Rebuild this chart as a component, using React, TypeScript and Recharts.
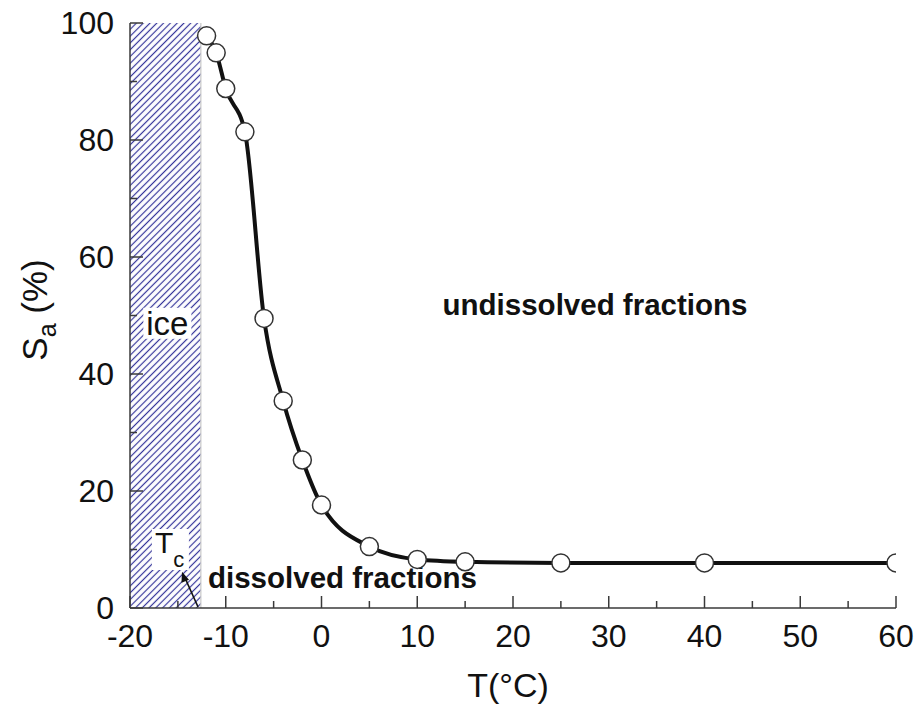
import React from 'react';
import { ComposedChart, Line, XAxis, YAxis, ReferenceArea, ReferenceLine, ReferenceDot } from 'recharts';

// Temperature (°C) and undissolved fraction S_a (%)
const temps = [-12, -11, -10, -8, -6, -4, -2, 0, 5, 10, 15, 25, 40, 60];
const saValues = [97.8, 94.9, 88.8, 81.4, 49.5, 35.4, 25.3, 17.6, 10.5, 8.3, 7.9, 7.7, 7.7, 7.7];

const xTicks = [-20, -15, -10, -5, 0, 5, 10, 15, 20, 25, 30, 35, 40, 45, 50, 55, 60];
const yTicks = [0, 10, 20, 30, 40, 50, 60, 70, 80, 90, 100];

// ice region ends at the critical temperature T_c
const iceStart = -20;
const iceEnd = -12.6;

const FONT = '"Liberation Sans", Arial, Helvetica, sans-serif';
const AXIS_COLOR = '#3a3a3a';

const data = temps.map((t, i) => ({ t, sa: saValues[i] }));

const BottomTick = (props: any) => {
  const { x, y, payload } = props;
  const major = payload.value % 10 === 0;
  return (
    <g>
      <line x1={x} y1={y} x2={x} y2={y - (major ? 12 : 7)} stroke={AXIS_COLOR} strokeWidth={1.5} />
      {major && (
        <text x={x} y={y + 39} textAnchor="middle" fontSize={32} fontFamily={FONT} fill="#111">
          {payload.value}
        </text>
      )}
    </g>
  );
};

const TopTick = (props: any) => {
  const { x, y, payload } = props;
  const major = payload.value % 10 === 0;
  return <line x1={x} y1={y} x2={x} y2={y + (major ? 12 : 7)} stroke={AXIS_COLOR} strokeWidth={1.5} />;
};

const LeftTick = (props: any) => {
  const { x, y, payload } = props;
  const major = payload.value % 20 === 0;
  return (
    <g>
      <line x1={x} y1={y} x2={x + (major ? 13 : 7)} y2={y} stroke={AXIS_COLOR} strokeWidth={1.5} />
      {major && (
        <text x={x - 16} y={y + 11} textAnchor="end" fontSize={32} fontFamily={FONT} fill="#111">
          {payload.value}
        </text>
      )}
    </g>
  );
};

// open circle, clipped to the plot frame (the last point sits on the right border)
const OpenDot = (props: any) => {
  const { cx, cy, index } = props;
  return (
    <circle key={index} cx={cx} cy={cy} r={9} fill="#fff" stroke="#333" strokeWidth={1.5} clipPath="url(#plotClip)" />
  );
};

// "ice" label with a white box behind it
const IceLabel = (props: any) => {
  const { cx, cy } = props;
  return (
    <g>
      <rect x={cx - 24} y={cy - 27} width={48} height={31} fill="#fff" />
      <text x={cx} y={cy} textAnchor="middle" fontSize={33} fontFamily={FONT} fill="#111">ice</text>
    </g>
  );
};

// T_c label, boxed
const TcLabel = (props: any) => {
  const { cx, cy } = props;
  return (
    <g>
      <rect x={cx - 3} y={cy - 24} width={37} height={41} fill="#fff" />
      <text x={cx} y={cy} fontSize={30} fontFamily={FONT} fill="#111">
        T<tspan fontSize={22} dy={14}>c</tspan>
      </text>
    </g>
  );
};

// arrow pointing from T_c on the axis up to the label
const TcArrow = (props: any) => {
  const { cx, cy } = props;
  return (
    <g>
      <line x1={cx} y1={cy} x2={cx - 13} y2={cy - 29} stroke="#111" strokeWidth={1.5} />
      <path d={`M${cx - 16},${cy - 35} L${cx - 16.5},${cy - 24} L${cx - 9},${cy - 27} Z`} fill="#111" />
    </g>
  );
};

export default function App() {
  return (
    <div style={{ position: 'absolute', left: 0, top: 0, width: 922, height: 708, background: '#fff' }}>
      <ComposedChart
        width={922}
        height={708}
        data={data}
        margin={{ top: 23, right: 26, bottom: 0, left: 0 }}
        style={{ fontFamily: FONT }}
      >
        <defs>
          <pattern id="hatch" patternUnits="userSpaceOnUse" width={4.8} height={4.8} patternTransform="rotate(45)">
            <line x1={2.4} y1={0} x2={2.4} y2={4.8} stroke="#34349a" strokeWidth={1.2} />
          </pattern>
          <clipPath id="plotClip">
            <rect x={130} y={0} width={766} height={708} />
          </clipPath>
        </defs>
        <ReferenceArea
          x1={iceStart}
          x2={iceEnd}
          y1={0}
          y2={100}
          fill="url(#hatch)"
          fillOpacity={1}
          stroke="none"
        />
        <ReferenceLine x={iceEnd} stroke="#c8c8c8" strokeWidth={1.2} />
        <XAxis
          type="number"
          dataKey="t"
          domain={[-20, 60]}
          ticks={xTicks}
          interval={0}
          height={100}
          tickSize={0}
          tickMargin={0}
          tickLine={false}
          tick={<BottomTick />}
          axisLine={{ stroke: AXIS_COLOR, strokeWidth: 1.5 }}
          allowDataOverflow
        />
        <XAxis
          xAxisId="top"
          orientation="top"
          type="number"
          domain={[-20, 60]}
          ticks={xTicks}
          interval={0}
          height={0}
          tickSize={0}
          tickMargin={0}
          tickLine={false}
          tick={<TopTick />}
          axisLine={{ stroke: AXIS_COLOR, strokeWidth: 1.5 }}
        />
        <YAxis
          type="number"
          domain={[0, 100]}
          ticks={yTicks}
          interval={0}
          width={130}
          tickSize={0}
          tickMargin={0}
          tickLine={false}
          tick={<LeftTick />}
          axisLine={{ stroke: AXIS_COLOR, strokeWidth: 1.5 }}
          allowDataOverflow
        />
        <YAxis
          yAxisId="right"
          orientation="right"
          type="number"
          domain={[0, 100]}
          width={0}
          tick={false}
          tickLine={false}
          axisLine={{ stroke: AXIS_COLOR, strokeWidth: 1.5 }}
        />
        <Line
          type="monotone"
          dataKey="sa"
          stroke="#111"
          strokeWidth={4}
          dot={OpenDot}
          activeDot={false}
          isAnimationActive={false}
        />
        <ReferenceDot x={-16.1} y={46.7} r={0} shape={IceLabel} ifOverflow="visible" />
        <ReferenceDot x={-17.4} y={9.4} r={0} shape={TcLabel} ifOverflow="visible" />
        <ReferenceDot x={-12.9} y={0.2} r={0} shape={TcArrow} ifOverflow="visible" />

        <text x={595} y={315} textAnchor="middle" fontSize={29.5} fontWeight="bold" fontFamily={FONT} fill="#111">
          undissolved fractions
        </text>
        <text x={208} y={588} fontSize={29.5} fontWeight="bold" fontFamily={FONT} fill="#111">
          dissolved fractions
        </text>
        <text x={508} y={697} textAnchor="middle" fontSize={34} fontFamily={FONT} fill="#111">
          T(°C)
        </text>
        <text transform="translate(47,310) rotate(-90)" textAnchor="middle" fontSize={35} fontFamily={FONT} fill="#111">
          S<tspan fontSize={25} dy={9}>a</tspan>
          <tspan dy={-9}> (%)</tspan>
        </text>
      </ComposedChart>
    </div>
  );
}
